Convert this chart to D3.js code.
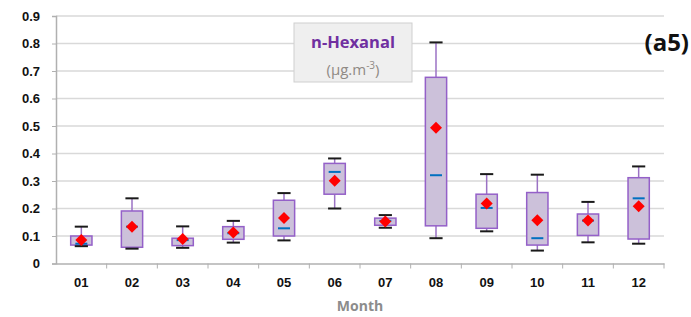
<!DOCTYPE html>
<html>
<head>
<meta charset="utf-8">
<script src="https://cdn.jsdelivr.net/npm/d3@7"></script>
<style>
  body { margin: 0; background: #fff; }
  svg { display: block; font-family: "Open Sans", "DejaVu Sans", sans-serif; }
</style>
</head>
<body>
<div id="chart"></div>
<script>
// Chart dimensions
const width = 691;
const height = 317;
const margin = { top: 16, right: 27, bottom: 53.5, left: 56 };

// Data
const months = ["01", "02", "03", "04", "05", "06", "07", "08", "09", "10", "11", "12"];
const whiskerLow  = [0.063, 0.054, 0.057, 0.076, 0.084, 0.200, 0.130, 0.092, 0.117, 0.047, 0.077, 0.072];
const boxLow      = [0.067, 0.059, 0.065, 0.088, 0.100, 0.252, 0.139, 0.137, 0.128, 0.067, 0.102, 0.089];
const medians     = [0.072, 0.134, 0.085, 0.110, 0.128, 0.333, 0.155, 0.321, 0.202, 0.092, 0.156, 0.237];
const boxHigh     = [0.100, 0.191, 0.092, 0.134, 0.230, 0.364, 0.165, 0.677, 0.252, 0.258, 0.180, 0.312];
const whiskerHigh = [0.134, 0.237, 0.135, 0.155, 0.256, 0.382, 0.176, 0.804, 0.325, 0.323, 0.224, 0.353];
const means       = [0.085, 0.134, 0.089, 0.113, 0.165, 0.301, 0.153, 0.494, 0.218, 0.157, 0.156, 0.208];
const yTicks = [0, 0.1, 0.2, 0.3, 0.4, 0.5, 0.6, 0.7, 0.8, 0.9];

const rows = months.map((m, i) => ({
  month: m,
  wLo: whiskerLow[i], q1: boxLow[i], med: medians[i],
  q3: boxHigh[i], wHi: whiskerHigh[i], mean: means[i]
}));

const svg = d3.select("#chart")
  .append("svg")
  .attr("width", width)
  .attr("height", height);

const x = d3.scaleBand()
  .domain(months)
  .range([margin.left, width - margin.right]);

const y = d3.scaleLinear()
  .domain([0, 0.9])
  .range([height - margin.bottom, margin.top]);

// Gridlines
svg.append("g")
  .selectAll("line")
  .data(yTicks.slice(1))
  .enter()
  .append("line")
  .attr("x1", margin.left)
  .attr("x2", width - margin.right)
  .attr("y1", d => y(d))
  .attr("y2", d => y(d))
  .attr("stroke", "#d9d9d9")
  .attr("stroke-width", 1.5);

// Y axis
const yAxis = svg.append("g")
  .attr("transform", `translate(${margin.left},0)`)
  .call(d3.axisLeft(y).tickValues(yTicks).tickFormat(d => d === 0 ? "0" : d3.format(".1f")(d)).tickSize(4).tickPadding(12));
yAxis.select(".domain").attr("stroke", "#b0b0b0").attr("stroke-width", 1.5);
yAxis.selectAll(".tick line").attr("stroke", "#b0b0b0");
yAxis.selectAll("text").attr("font-size", 13).attr("font-weight", "bold").attr("fill", "#111");

// X axis
const xAxis = svg.append("g")
  .attr("transform", `translate(0,${y(0)})`)
  .call(d3.axisBottom(x).tickSize(0).tickPadding(14));
xAxis.select(".domain").attr("stroke", "#b0b0b0").attr("stroke-width", 1.5);
xAxis.selectAll("text").attr("font-size", 13).attr("font-weight", "bold").attr("fill", "#111");
// category separators
xAxis.selectAll(".sep")
  .data(months)
  .enter()
  .append("line")
  .attr("x1", d => x(d) + x.bandwidth())
  .attr("x2", d => x(d) + x.bandwidth())
  .attr("y1", 0)
  .attr("y2", 5)
  .attr("stroke", "#b0b0b0");

svg.append("text")
  .attr("x", x("06") + x.bandwidth())
  .attr("y", 311)
  .attr("text-anchor", "middle")
  .attr("font-size", 14)
  .attr("font-weight", "bold")
  .attr("fill", "#8c8c8c")
  .text("Month");

// Boxes
const boxW = x.bandwidth() * 0.42;
const capW = x.bandwidth() * 0.26;
const g = svg.append("g")
  .selectAll("g")
  .data(rows)
  .enter()
  .append("g")
  .attr("transform", d => `translate(${x(d.month) + x.bandwidth() / 2},0)`);

g.append("line")
  .attr("y1", d => y(d.wHi)).attr("y2", d => y(d.wLo))
  .attr("stroke", "#9b72c4").attr("stroke-width", 1.5);

g.append("rect")
  .attr("x", -boxW / 2)
  .attr("width", boxW)
  .attr("y", d => y(d.q3))
  .attr("height", d => y(d.q1) - y(d.q3))
  .attr("fill", "#ccc1da")
  .attr("stroke", "#9460c8")
  .attr("stroke-width", 1.5);

g.selectAll(".cap")
  .data(d => [d.wHi, d.wLo])
  .enter()
  .append("line")
  .attr("x1", -capW / 2).attr("x2", capW / 2)
  .attr("y1", v => y(v)).attr("y2", v => y(v))
  .attr("stroke", "#1a1a1a").attr("stroke-width", 2);

g.append("line")
  .attr("x1", -6).attr("x2", 6)
  .attr("y1", d => y(d.med)).attr("y2", d => y(d.med))
  .attr("stroke", "#0070c0").attr("stroke-width", 2);

g.append("path")
  .attr("d", d3.symbol().type(d3.symbolSquare).size(72))
  .attr("transform", d => `translate(0,${y(d.mean)}) rotate(45)`)
  .attr("fill", "#ff0000");

// Label box
const lg = svg.append("g").attr("transform", "translate(294,23)");
lg.append("rect")
  .attr("width", 118).attr("height", 59)
  .attr("fill", "#efefef").attr("stroke", "#cfcfcf").attr("stroke-width", 1);
lg.append("text")
  .attr("x", 59).attr("y", 25)
  .attr("text-anchor", "middle")
  .attr("font-size", 16.5).attr("font-weight", "bold").attr("fill", "#7030a0")
  .text("n-Hexanal");
const unit = lg.append("text")
  .attr("x", 59).attr("y", 52)
  .attr("text-anchor", "middle")
  .attr("font-size", 15).attr("fill", "#8f8a85");
unit.append("tspan").text("(µg.m");
unit.append("tspan").attr("dy", -6).attr("font-size", 10).text("-3");
unit.append("tspan").attr("dy", 6).text(")");

svg.append("text")
  .attr("x", 689).attr("y", 51)
  .attr("text-anchor", "end")
  .attr("font-size", 24).attr("font-weight", "bold").attr("fill", "#111")
  .text("(a5)");
</script>
</body>
</html>
